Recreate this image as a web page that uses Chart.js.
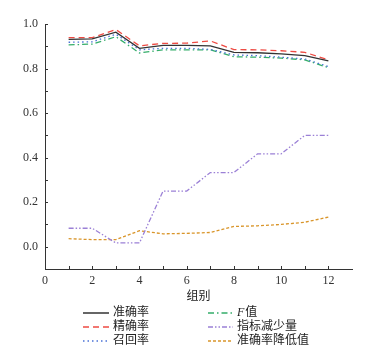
<!DOCTYPE html>
<html>
<head>
<meta charset="utf-8">
<script src="https://cdn.jsdelivr.net/npm/chart.js@4"></script>
<style>
  html, body { margin: 0; padding: 0; background: #fff; }
  #wrap { width: 375px; height: 357px; }
</style>
</head>
<body>
<div id="wrap"><canvas id="chart-main" width="375" height="357"></canvas></div>
<script>
const groups = [1, 2, 3, 4, 5, 6, 7, 8, 9, 10, 11, 12];
const accuracy  = [0.931, 0.933, 0.963, 0.891, 0.904, 0.904, 0.902, 0.873, 0.871, 0.866, 0.858, 0.834];
const precision = [0.939, 0.939, 0.975, 0.902, 0.913, 0.914, 0.924, 0.885, 0.884, 0.880, 0.873, 0.839];
const recall    = [0.918, 0.920, 0.954, 0.884, 0.891, 0.891, 0.886, 0.861, 0.858, 0.851, 0.843, 0.809];
const fValue    = [0.906, 0.910, 0.943, 0.870, 0.884, 0.884, 0.884, 0.853, 0.851, 0.847, 0.839, 0.804];
const reduction = [0.083, 0.083, 0.017, 0.017, 0.250, 0.250, 0.333, 0.333, 0.417, 0.417, 0.500, 0.500];
const accDrop   = [0.036, 0.032, 0.032, 0.072, 0.058, 0.060, 0.064, 0.091, 0.094, 0.100, 0.110, 0.133];

const seriesNames = ['准确率', '精确率', '召回率', 'F值', '指标减少量', '准确率降低值'];

const serif = '"Liberation Serif", "Noto Sans CJK SC", serif';

const styles = [
  { color: '#333333', dash: [], width: 1.3 },
  { color: '#ee4b43', dash: [6, 4], width: 1.3 },
  { color: '#4a72d6', dash: [1.5, 3], width: 1.3 },
  { color: '#34ad6a', dash: [6, 3, 1.5, 3], width: 1.3 },
  { color: '#9b80d6', dash: [5, 2, 1.5, 2, 1.5, 2], width: 1.3 },
  { color: '#d9952a', dash: [3, 2], width: 1.3 }
];

const values = [accuracy, precision, recall, fValue, reduction, accDrop];

const datasets = values.map((v, i) => ({
  label: seriesNames[i],
  data: groups.map((g, k) => ({ x: g, y: v[k] })),
  borderColor: styles[i].color,
  borderDash: styles[i].dash,
  borderWidth: styles[i].width,
  pointRadius: 0,
  tension: 0,
  fill: false
}));

// inward ticks + legend
const decor = {
  id: 'decor',
  afterDraw(chart) {
    const c = chart.ctx;
    const xs = chart.scales.x, ys = chart.scales.y;
    const area = chart.chartArea;
    c.save();
    c.strokeStyle = '#333';
    c.lineWidth = 1;
    c.setLineDash([]);
    c.beginPath();
    for (let i = 1; i <= 12; i++) {
      const px = Math.round(xs.getPixelForValue(i)) + 0.5;
      c.moveTo(px, area.bottom);
      c.lineTo(px, area.bottom - 3);
    }
    for (let i = 0; i <= 10; i++) {
      const py = Math.round(ys.getPixelForValue(i / 10)) + 0.5;
      c.moveTo(area.left, py);
      c.lineTo(area.left + 3, py);
    }
    c.stroke();

    // legend, two columns
    const rows = [313, 327, 341];
    const cols = [{ x0: 83, x1: 109, tx: 113 }, { x0: 208, x1: 233, tx: 237 }];
    c.textBaseline = 'middle';
    c.textAlign = 'left';
    seriesNames.forEach((name, i) => {
      const col = cols[Math.floor(i / 3)];
      const y = rows[i % 3];
      const st = styles[i];
      c.save();
      c.strokeStyle = st.color;
      c.lineWidth = 1.5;
      c.setLineDash(st.dash);
      c.beginPath();
      c.moveTo(col.x0, y);
      c.lineTo(col.x1, y);
      c.stroke();
      c.restore();
      c.fillStyle = '#222';
      if (name === 'F值') {
        c.font = 'italic 12px ' + serif;
        c.fillText('F', col.tx, y);
        const w = c.measureText('F').width;
        c.font = '12px ' + serif;
        c.fillText('值', col.tx + w + 1, y);
      } else {
        c.font = '12px ' + serif;
        c.fillText(name, col.tx, y);
      }
    });
    c.restore();
  }
};

new Chart(document.getElementById('chart-main'), {
  type: 'line',
  data: { datasets },
  options: {
    responsive: false,
    animation: false,
    layout: { padding: { left: 0, top: 24, right: 23, bottom: 0 } },
    plugins: {
      legend: { display: false },
      tooltip: { enabled: false }
    },
    scales: {
      x: {
        type: 'linear',
        min: 0,
        max: 13,
        afterFit(scale) { scale.height = 88; },
        grid: { display: false, drawTicks: false },
        border: { display: true, color: '#333', width: 1 },
        ticks: {
          stepSize: 1,
          padding: 5,
          maxRotation: 0,
          autoSkip: false,
          color: '#333',
          font: { family: serif, size: 12 },
          callback: v => (v % 2 === 0 && v <= 12) ? String(v) : ''
        },
        title: {
          display: true,
          text: '组别',
          color: '#222',
          font: { family: serif, size: 12 },
          padding: { top: 0, bottom: 53 }
        }
      },
      y: {
        min: -0.1,
        max: 1.0,
        afterFit(scale) { scale.width = 45; },
        grid: { display: false, drawTicks: false },
        border: { display: true, color: '#333', width: 1 },
        ticks: {
          stepSize: 0.1,
          padding: 7,
          autoSkip: false,
          color: '#333',
          font: { family: serif, size: 12 },
          callback: v => {
            const n = Math.round(v * 10);
            return (n >= 0 && n % 2 === 0) ? (n / 10).toFixed(1) : '';
          }
        }
      }
    }
  },
  plugins: [decor]
});
</script>
</body>
</html>
